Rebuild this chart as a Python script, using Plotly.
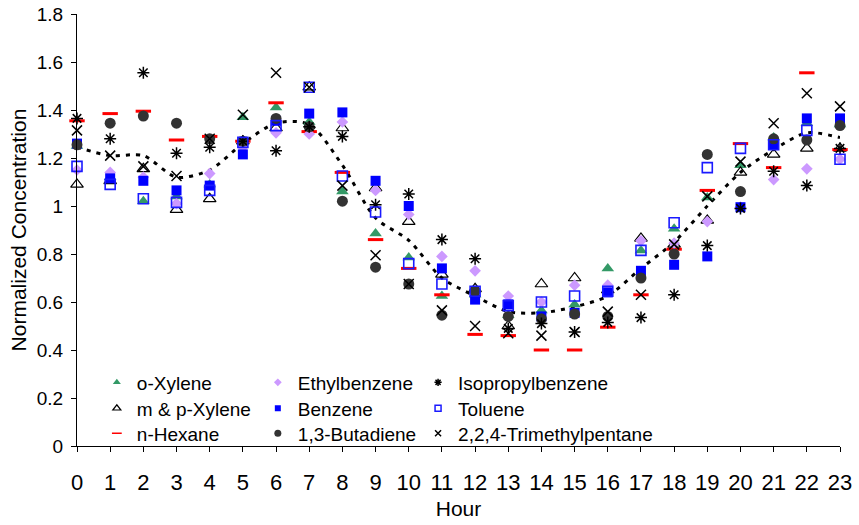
import plotly.graph_objects as go

hours = list(range(24))

o_xylene = [1.25, 1.12, 1.02, 1.04, 1.09, 1.37, 1.41, 1.35, 1.06, 0.885, 0.785, 0.625,
            0.63, 0.545, 0.565, 0.59, 0.74, 0.815, 0.905, 1.035, 1.17, 1.285, 1.345, 1.34]
ethylbenzene = [1.15, 1.14, 1.12, 1.01, 1.135, 1.245, 1.305, 1.30, 1.35, 1.065, 0.965, 0.79,
                0.73, 0.625, 0.60, 0.67, 0.67, 0.855, 0.845, 0.935, 0.995, 1.11, 1.155, 1.195]
isopropylbenzene = [1.365, 1.28, 1.555, 1.22, 1.245, 1.27, 1.23, 1.33, 1.29, 1.005, 1.05, 0.86,
                    0.78, 0.49, 0.51, 0.475, 0.515, 0.535, 0.63, 0.835, 0.99, 1.145, 1.085, 1.24]
mp_xylene = [1.09, 1.105, 1.155, 0.985, 1.03, 1.27, 1.325, 1.495, 1.325, 1.075, 0.935, 0.715,
             0.655, 0.50, 0.675, 0.70, 0.65, 0.865, 0.84, 0.94, 1.14, 1.215, 1.24, 1.24]
benzene = [1.26, 1.115, 1.105, 1.065, 1.085, 1.215, 1.355, 1.385, 1.39, 1.105, 1.0, 0.74,
           0.61, 0.59, 0.54, 0.555, 0.64, 0.73, 0.755, 0.79, 0.995, 1.255, 1.365, 1.365]
toluene = [1.165, 1.09, 1.03, 1.015, 1.065, 1.265, 1.335, 1.495, 1.125, 0.975, 0.76, 0.675,
           0.645, 0.585, 0.60, 0.625, 0.645, 0.815, 0.93, 1.16, 1.24, 1.255, 1.315, 1.195]
n_hexane = [1.355, 1.385, 1.395, 1.275, 1.29, 1.27, 1.43, 1.31, 1.14, 0.86, 0.74, 0.63,
            0.465, 0.46, 0.40, 0.40, 0.495, 0.63, 0.82, 1.065, 1.26, 1.16, 1.555, 1.235]
butadiene = [1.255, 1.345, 1.375, 1.345, 1.28, 1.27, 1.365, 1.33, 1.02, 0.745, 0.675, 0.545,
             0.645, 0.54, 0.53, 0.55, 0.54, 0.70, 0.80, 1.215, 1.06, 1.28, 1.275, 1.335]
trimethylpentane = [1.315, 1.21, 1.165, 1.125, 1.28, 1.38, 1.555, 1.495, 1.085, 0.795, 0.675, 0.565,
                    0.50, 0.47, 0.46, 0.475, 0.56, 0.63, 0.84, 1.04, 1.185, 1.345, 1.47, 1.415]
average = [1.245, 1.21, 1.21, 1.12, 1.15, 1.26, 1.345, 1.34, 1.17, 0.95, 0.857, 0.70,
           0.625, 0.56, 0.555, 0.58, 0.625, 0.74, 0.85, 1.0, 1.14, 1.235, 1.305, 1.285]

FONT = "Liberation Sans, Arial, sans-serif"

# name, data, symbol, colour, size, outline width
series = [
    ("o-Xylene", o_xylene, "triangle-up", "#339966", 11, 0),
    ("m & p-Xylene", mp_xylene, "triangle-up-open", "#000000", 11, 1.2),
    ("n-Hexane", n_hexane, "line-ew", "#FF0000", 11, 3),
    ("Ethylbenzene", ethylbenzene, "diamond", "#CC99FF", 9, 0),
    ("Benzene", benzene, "square", "#0000FF", 10, 0),
    ("1,3-Butadiene", butadiene, "circle", "#333333", 11, 0),
    ("Isopropylbenzene", isopropylbenzene, "asterisk-open", "#000000", 10, 1.5),
    ("Toluene", toluene, "square-open", "#1A1AFF", 10, 1.6),
    ("2,2,4-Trimethylpentane", trimethylpentane, "x-thin-open", "#000000", 10, 1.5),
]

# legend grid: column x positions (paper) and row y positions (paper)
legend_cols = [0.026, 0.237, 0.447]
legend_rows = [0.147, 0.087, 0.029]
legend_grid = [
    ["o-Xylene", "Ethylbenzene", "Isopropylbenzene"],
    ["m & p-Xylene", "Benzene", "Toluene"],
    ["n-Hexane", "1,3-Butadiene", "2,2,4-Trimethylpentane"],
]

fig = go.Figure()

fig.add_trace(go.Scatter(
    x=hours, y=average, mode="lines", showlegend=False, hoverinfo="skip",
    line=dict(color="black", width=3, dash="4px,6px", shape="spline", smoothing=0.8),
    cliponaxis=False,
))

for name, data, sym, col, size, lw in series:
    fig.add_trace(go.Scatter(
        x=hours, y=data, mode="markers", name=name, showlegend=False, cliponaxis=False,
        marker=dict(symbol=sym, color=col, size=size, line=dict(width=lw, color=col)),
    ))

lookup = {s[0]: s for s in series}
legends = {}
k = 0
for r, row in enumerate(legend_grid):
    for c, nm in enumerate(row):
        k += 1
        key = "legend" if k == 1 else f"legend{k}"
        name, data, sym, col, size, lw = lookup[nm]
        fig.add_trace(go.Scatter(
            x=[None], y=[None], mode="markers", name=name, legend=key, showlegend=True,
            marker=dict(symbol=sym, color=col, size=max(6, size - 4),
                        line=dict(width=min(lw, 1.5), color=col)),
        ))
        legends[key] = dict(
            x=legend_cols[c], y=legend_rows[r], xanchor="left", yanchor="middle",
            orientation="v", bgcolor="rgba(0,0,0,0)",
            font=dict(family=FONT, size=19, color="black"),
            itemclick=False, itemdoubleclick=False,
        )

fig.update_layout(
    width=859, height=525,
    margin=dict(l=77, r=19, t=14, b=79, autoexpand=False),
    paper_bgcolor="white", plot_bgcolor="white",
    font=dict(family=FONT, color="black"),
    xaxis=dict(
        range=[0, 23], tickmode="linear", tick0=0, dtick=1, automargin=False,
        showline=True, linecolor="black", linewidth=1, showgrid=False, zeroline=False,
        ticks="outside", ticklen=5, tickcolor="black", ticklabelstandoff=12,
        tickfont=dict(family=FONT, size=22, color="black"),
        title=dict(text="Hour", font=dict(family=FONT, size=21, color="black"), standoff=6),
    ),
    yaxis=dict(
        range=[0, 1.8], tickmode="linear", tick0=0, dtick=0.2, automargin=False,
        showline=True, linecolor="black", linewidth=1, showgrid=False, zeroline=False,
        ticks="outside", ticklen=5, tickcolor="black", ticklabelstandoff=4,
        tickfont=dict(family=FONT, size=19, color="black"),
        title=dict(text="Normalized Concentration", font=dict(family=FONT, size=21, color="black"), standoff=4),
    ),
    **legends,
)

fig.write_html(
    "out.html",
    config={"displayModeBar": False},
    post_script="document.body.style.margin='0';document.body.style.overflow='hidden';",
)
